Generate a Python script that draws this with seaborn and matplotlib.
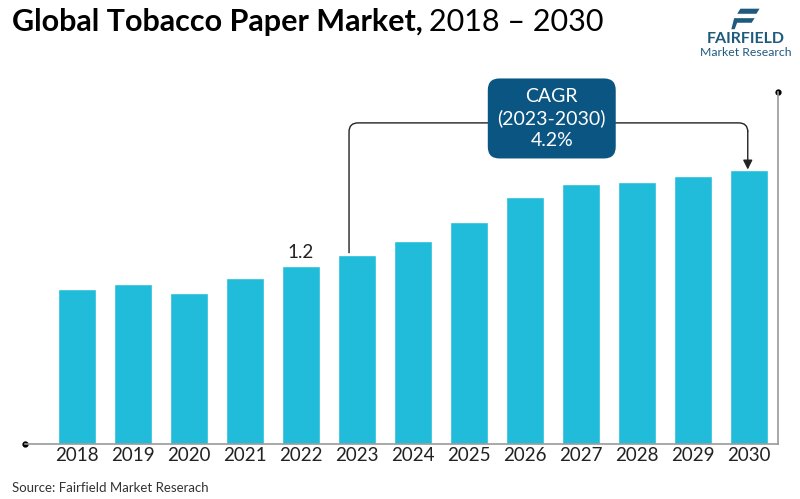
import numpy as np
import pandas as pd
import matplotlib
matplotlib.use("Agg")
import matplotlib.pyplot as plt
from matplotlib.path import Path
from matplotlib.patches import PathPatch, Polygon
import seaborn as sns

# ---- data ----
years = ["2018", "2019", "2020", "2021", "2022", "2023", "2024",
         "2025", "2026", "2027", "2028", "2029", "2030"]
market_value = [1.05, 1.085, 1.02, 1.125, 1.2, 1.28, 1.375,
                1.50, 1.67, 1.76, 1.77, 1.81, 1.85]
label_year = "2022"
label_text = "1.2"
cagr_text = "CAGR\n(2023-2030)\n4.2%"
cagr_start, cagr_end = "2023", "2030"

BAR = "#20BCD9"
NAVY = "#0B5583"
LOGO = "#1E5A7E"
FONT = ["Lato", "DejaVu Sans"]

sns.set_style("white")
plt.rcParams['font.family'] = FONT

df = pd.DataFrame({"year": years, "value": market_value})

fig = plt.figure(figsize=(8, 4.99), dpi=100)
ax = fig.add_axes([0.031, 0.110, 0.9415, 0.706])

sns.barplot(data=df, x="year", y="value", color=BAR, width=0.68,
            saturation=1, ax=ax)

ax.set_xlim(-0.93, 12.52)
ax.set_ylim(0, 2.38)
ax.set_xlabel("")
ax.set_ylabel("")
ax.set_yticks([])
ax.tick_params(axis="x", length=0, labelsize=13.5, pad=2, colors="#222222")

for s in ["top", "left"]:
    ax.spines[s].set_visible(False)
for s in ["bottom", "right"]:
    ax.spines[s].set_color("#9a9a9a")
    ax.spines[s].set_linewidth(1.2)

# end dots of the axis lines
ax.plot([0], [0], "o", color="black", ms=3.5, transform=ax.transAxes, clip_on=False)
ax.plot([1], [1], "o", color="black", ms=3.5, transform=ax.transAxes, clip_on=False)

# value label above 2022
i_lab = years.index(label_year)
ax.text(i_lab, market_value[i_lab] + 0.04, label_text, ha="center", va="bottom",
        fontsize=13.5, color="#222222")

# CAGR bracket
i0, i1 = years.index(cagr_start), years.index(cagr_end)
y_top = 2.17
x0 = i0 - 0.14
x1 = i1 - 0.02
rx, ry = 0.16, 0.06
verts = [(x0, market_value[i0] + 0.01), (x0, y_top - ry), (x0, y_top), (x0 + rx, y_top),
         (x1 - rx, y_top), (x1, y_top), (x1, y_top - ry)]
codes = [Path.MOVETO, Path.LINETO, Path.CURVE3, Path.CURVE3,
         Path.LINETO, Path.CURVE3, Path.CURVE3]
ax.add_patch(PathPatch(Path(verts, codes), fill=False, lw=1.0, color="#222222"))
ax.annotate("", xy=(x1, market_value[i1] + 0.005), xytext=(x1, y_top - ry + 0.005),
            arrowprops=dict(arrowstyle="-|>", color="#222222", lw=1.0,
                            mutation_scale=14, shrinkA=0, shrinkB=0))

ax.text((x0 + x1) / 2 + 0.06, y_top + 0.03, cagr_text, ha="center", va="center",
        fontsize=14, color="white", linespacing=1.3,
        bbox=dict(boxstyle="round,pad=0.5,rounding_size=0.6", fc=NAVY, ec="none"))

# title
t1 = fig.text(0.015, 0.955, "Global Tobacco Paper Market,", fontsize=22,
              fontweight="bold", va="center", ha="left", color="black")
fig.canvas.draw()
bb = t1.get_window_extent()
fig.text(bb.x1 / fig.bbox.width + 0.008, 0.955, "2018 – 2030", fontsize=22,
         va="center", ha="left", color="black")

# logo
fig.patches.append(Polygon([(0.925, 0.984), (0.951, 0.984), (0.946, 0.971), (0.920, 0.971)],
                           closed=True, fc=LOGO, transform=fig.transFigure))
fig.patches.append(Polygon([(0.925, 0.965), (0.945, 0.965), (0.940, 0.953), (0.922, 0.953),
                            (0.919, 0.940), (0.913, 0.940), (0.917, 0.965)],
                           closed=True, fc=LOGO, transform=fig.transFigure))
fig.text(0.932, 0.921, "FAIRFIELD", fontsize=11.5, fontweight="bold", color=LOGO,
         ha="center", va="center")
fig.text(0.932, 0.895, "Market Research", fontsize=8.8, color=LOGO,
         ha="center", va="center")

# source
fig.text(0.015, 0.022, "Source: Fairfield Market Reserach", fontsize=9.5,
         color="#333333", ha="left", va="center")

fig.savefig("out.png", dpi=100)
